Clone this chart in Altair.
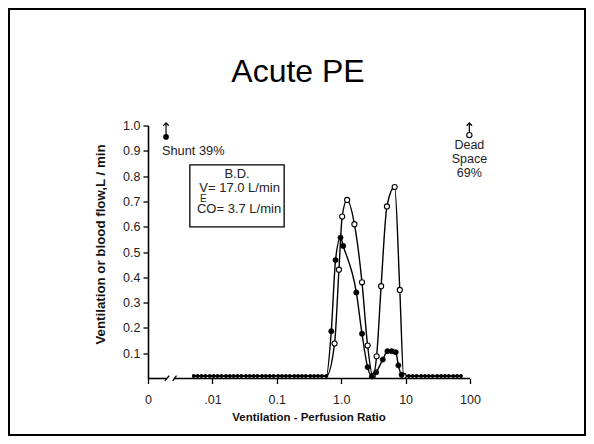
import altair as alt
import pandas as pd

FONT = "Liberation Sans"

# ---- data (x = log10 of ventilation/perfusion ratio, y = L/min) ----
base_left_x = [-2.29, -2.23, -2.17, -2.11, -2.04, -1.98, -1.92, -1.86, -1.79, -1.73,
               -1.67, -1.61, -1.55, -1.48, -1.42, -1.36, -1.30, -1.23, -1.17, -1.11,
               -1.05, -0.98, -0.92, -0.86, -0.80, -0.73, -0.67, -0.61, -0.55, -0.48,
               -0.42, -0.36, -0.30, -0.23]
base_right_x = [1.05, 1.11, 1.17, 1.24, 1.30, 1.36, 1.42, 1.49, 1.55, 1.61, 1.67, 1.74,
                1.80, 1.86]
base_value = 0.01

vent_peak_x = [-0.103, -0.035, 0.015, 0.092, 0.205, 0.323, 0.41, 0.49, 0.55, 0.62,
               0.71, 0.83, 0.91, 0.97]
vent_peak_y = [0.138, 0.43, 0.64, 0.706, 0.61, 0.38, 0.13, 0.01, 0.088, 0.365,
               0.68, 0.757, 0.35, 0.01]

flow_peak_x = [-0.154, -0.088, -0.011, 0.031, 0.235, 0.323, 0.41, 0.477, 0.543, 0.646,
               0.718, 0.785, 0.846, 0.888, 0.938]
flow_peak_y = [0.187, 0.468, 0.557, 0.524, 0.34, 0.177, 0.045, 0.008, 0.025, 0.075,
               0.108, 0.108, 0.104, 0.052, 0.015]

x_tick_values = [-3, -2, -1, 0, 1, 2]
x_tick_labels = ["0", ".01", "0.1", "1.0", "10", "100"]
y_tick_values = [0.1, 0.2, 0.3, 0.4, 0.5, 0.6, 0.7, 0.8, 0.9, 1.0]

shunt_x, shunt_y, shunt_label = -2.72, 0.955, "Shunt 39%"
dead_x, dead_y, dead_label = 1.99, 0.962, "Dead\nSpace\n69%"
arrow_top = 1.01

box_x, box_x2, box_y, box_y2 = -2.35, -0.886, 0.599, 0.844
box_lines_x = [-1.617, -1.578, -1.586]
box_lines_y = [0.808, 0.752, 0.670]
box_lines_t = ["B.D.", "V= 17.0 L/min", "CO= 3.7 L/min"]
sub_x, sub_y, sub_t = -2.140, 0.710, "E"

axis_segments_x = [-3.0, -2.60]
axis_segments_x2 = [-2.72, 2.0]
break_x = [-2.737, -2.617]
break_x2 = [-2.672, -2.557]
break_y = [-0.009, -0.009]
break_y2 = [0.011, 0.011]

title_text = "Acute PE"

# ---- tables ----
vent = pd.DataFrame({
    "x": base_left_x + vent_peak_x + base_right_x,
    "y": [base_value] * len(base_left_x) + vent_peak_y + [base_value] * len(base_right_x),
})
flow = pd.DataFrame({
    "x": base_left_x + flow_peak_x + base_right_x,
    "y": [base_value] * len(base_left_x) + flow_peak_y + [base_value] * len(base_right_x),
})
vent_peak = pd.DataFrame({"x": vent_peak_x, "y": vent_peak_y})
flow_peak = pd.DataFrame({"x": flow_peak_x, "y": flow_peak_y})
baseline = pd.DataFrame({"x": base_left_x + base_right_x,
                         "y": [base_value] * (len(base_left_x) + len(base_right_x))})

label_expr = " : ".join(
    f"datum.value == {v} ? '{l}'" for v, l in zip(x_tick_values, x_tick_labels)
) + " : ''"

X_SCALE = alt.Scale(domain=[-3, 2], nice=False, zero=False)
Y_SCALE = alt.Scale(domain=[0, 1], nice=False, zero=False)

x_axis = alt.Axis(
    values=x_tick_values, labelExpr=label_expr, domain=False, grid=False,
    ticks=True, tickSize=5, tickColor="black", tickWidth=1.3,
    labelFont=FONT, labelFontSize=12.5, labelColor="#222", labelPadding=10,
    labelFlush=False, labelOverlap=False,
    title="Ventilation - Perfusion Ratio", titleFont=FONT, titleFontSize=11.5,
    titleFontWeight="bold", titleColor="#111", titleX=160.5, titleY=39,
    titleBaseline="middle", titleAlign="center",
)
y_axis = alt.Axis(
    values=y_tick_values, format=".1f", domain=True, domainColor="black",
    domainWidth=1.6, grid=False, ticks=True, tickSize=5, tickColor="black",
    tickWidth=1.3, labelFont=FONT, labelFontSize=12.5, labelColor="#222",
    labelPadding=3, labelFlush=False, labelOverlap=False,
    title="Ventilation or blood flow,L / min", titleFont=FONT, titleFontSize=13.3,
    titleFontWeight="bold", titleColor="#111", titleAngle=-90, titleX=-48,
    titleY=118.5, titleBaseline="middle", titleAlign="center",
)

def X(field="x"):
    return alt.X(f"{field}:Q", scale=X_SCALE, axis=x_axis)

def Y(field="y"):
    return alt.Y(f"{field}:Q", scale=Y_SCALE, axis=y_axis)

vent_line = alt.Chart(vent).mark_line(interpolate="monotone", color="black", strokeWidth=1.4).encode(x=X(), y=Y())
flow_line = alt.Chart(flow).mark_line(interpolate="monotone", color="black", strokeWidth=1.4).encode(x=X(), y=Y())
base_pts = alt.Chart(baseline).mark_point(shape="circle", size=15, filled=True, fill="black",
                                          opacity=1).encode(x=X(), y=Y())
vent_pts = alt.Chart(vent_peak).mark_point(shape="circle", size=26, filled=True, fill="white",
                                           stroke="black", strokeWidth=1.1, opacity=1).encode(x=X(), y=Y())
flow_pts = alt.Chart(flow_peak).mark_point(shape="circle", size=28, filled=True, fill="black",
                                           stroke="black", strokeWidth=0.5, opacity=1).encode(x=X(), y=Y())

# x axis line with a break
axis_df = pd.DataFrame({"x": axis_segments_x, "x2": axis_segments_x2, "y": [0, 0]})
axis_line = alt.Chart(axis_df).mark_rule(color="black", strokeWidth=1.6).encode(
    x=X(), x2="x2:Q", y=Y())
break_df = pd.DataFrame({"x": break_x, "x2": break_x2, "y": break_y, "y2": break_y2})
break_marks = alt.Chart(break_df).mark_rule(color="black", strokeWidth=1.3).encode(
    x=X(), x2="x2:Q", y=Y(), y2="y2:Q")

# shunt and dead space arrows
arrow_df = pd.DataFrame({"x": [shunt_x, dead_x], "y": [shunt_y, dead_y],
                         "y2": [arrow_top, arrow_top]})
arrow_rules = alt.Chart(arrow_df).mark_rule(color="black", strokeWidth=1.2).encode(
    x=X(), y=Y(), y2="y2:Q")
head_df = pd.DataFrame({"x": [shunt_x, dead_x], "y": [arrow_top, arrow_top]})
arrow_heads = alt.Chart(head_df).mark_point(shape="M-1,1L0,0L1,1", size=30, filled=False,
                                            stroke="black", strokeWidth=1.2, opacity=1).encode(x=X(), y=Y())
shunt_pt = alt.Chart(pd.DataFrame({"x": [shunt_x], "y": [shunt_y]})).mark_point(
    shape="circle", size=32, filled=True, fill="black", opacity=1).encode(x=X(), y=Y())
dead_pt = alt.Chart(pd.DataFrame({"x": [dead_x], "y": [dead_y]})).mark_point(
    shape="circle", size=28, filled=True, fill="white", stroke="black", strokeWidth=1.1,
    opacity=1).encode(x=X(), y=Y())

shunt_text = alt.Chart(pd.DataFrame({"x": [shunt_x - 0.064], "y": [0.90], "t": [shunt_label]})).mark_text(
    font=FONT, fontSize=12.8, align="left", baseline="middle", color="#222").encode(x=X(), y=Y(), text="t:N")
dead_text = alt.Chart(pd.DataFrame({"x": [dead_x], "y": [0.948], "t": [dead_label]})).mark_text(
    font=FONT, fontSize=12.5, align="center", baseline="top", lineBreak="\n", lineHeight=14,
    color="#222").encode(x=X(), y=Y(), text="t:N")

box_df = pd.DataFrame({"x": [box_x], "x2": [box_x2], "y": [box_y], "y2": [box_y2]})
box = alt.Chart(box_df).mark_rect(fill="white", stroke="black", strokeWidth=1.3).encode(
    x=X(), x2="x2:Q", y=Y(), y2="y2:Q")
box_text = alt.Chart(pd.DataFrame({"x": box_lines_x, "y": box_lines_y, "t": box_lines_t})).mark_text(
    font=FONT, fontSize=13, align="center", baseline="middle", color="#222").encode(x=X(), y=Y(), text="t:N")
sub_text = alt.Chart(pd.DataFrame({"x": [sub_x], "y": [sub_y], "t": [sub_t]})).mark_text(
    font=FONT, fontSize=10, align="center", baseline="middle", color="#222").encode(x=X(), y=Y(), text="t:N")

title_df = pd.DataFrame({"t": [title_text]})
title = alt.Chart(title_df).mark_text(font=FONT, fontSize=32, align="center",
                                      baseline="alphabetic", color="black").encode(
    x=alt.value(150), y=alt.value(-43.5), text="t:N")
border = alt.Chart(title_df).mark_rect(fillOpacity=0, stroke="black", strokeWidth=2).encode(
    x=alt.value(-139), x2=alt.value(437), y=alt.value(-116.5), y2=alt.value(309.5))

chart = alt.layer(
    border, title, box, box_text, sub_text,
    vent_line, flow_line, base_pts, vent_pts, flow_pts,
    axis_line, break_marks,
    arrow_rules, arrow_heads, shunt_pt, dead_pt, shunt_text, dead_text,
).properties(
    width=322, height=253,
    autosize=alt.AutoSizeParams(type="none"),
    padding={"left": 140, "top": 117.5, "right": 116, "bottom": 57.5},
    background="white",
).configure_view(strokeOpacity=0)

chart.save("out.html", embed_options={"renderer": "svg", "actions": False})
